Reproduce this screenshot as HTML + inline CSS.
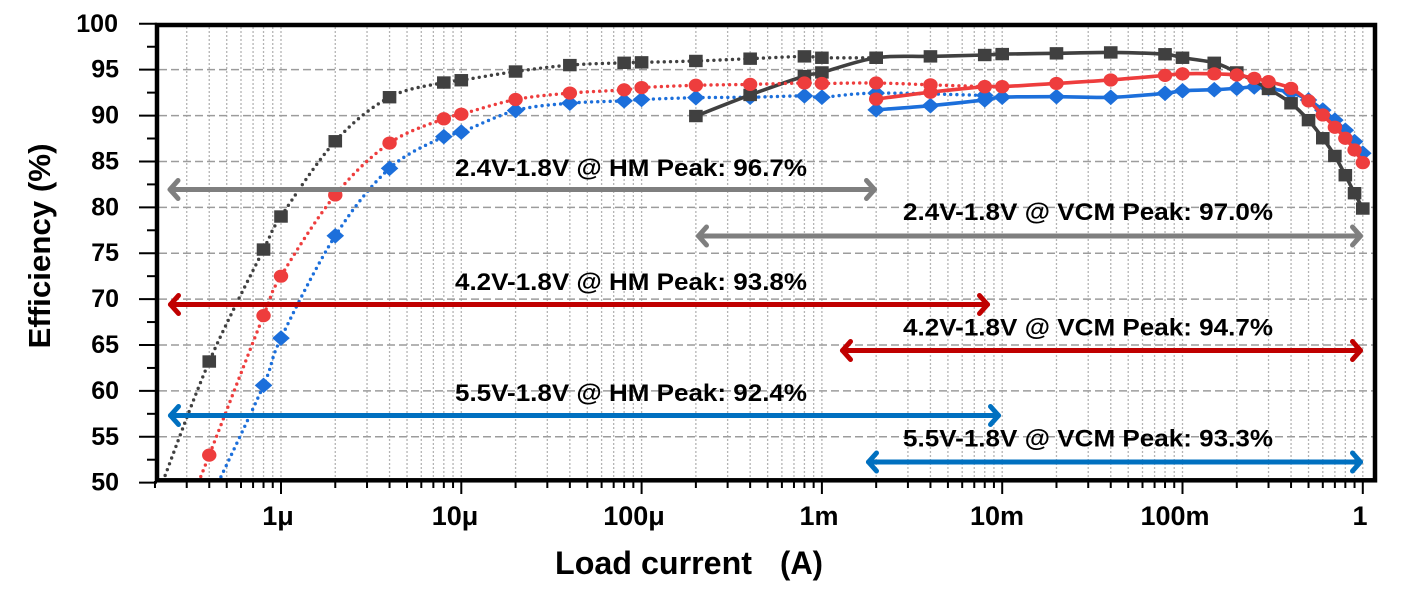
<!DOCTYPE html>
<html><head><meta charset="utf-8">
<style>
html,body{margin:0;padding:0;background:#fff;}
svg{display:block;}
text{font-family:"Liberation Sans",Arial,sans-serif;font-weight:bold;fill:#000;}
</style></head>
<body>
<svg id="c" width="1420" height="595" viewBox="0 0 1420 595" xmlns="http://www.w3.org/2000/svg">
<defs><clipPath id="pc"><rect x="159" y="27" width="1214" height="455"/></clipPath></defs>
<rect x="0" y="0" width="1420" height="595" fill="#fff"/>
<g id="grid"></g>
<g id="series" clip-path="url(#pc)"></g>
<rect x="157" y="25" width="1218" height="455.3" fill="none" stroke="#000" stroke-width="4.5"/>
<g id="ticks"></g>

<!-- Y labels -->
<g font-size="25" text-anchor="end">
<text x="118" y="31.8">100</text>
<text x="119" y="77.7">95</text>
<text x="119" y="123.6">90</text>
<text x="119" y="169.5">85</text>
<text x="119" y="215.3">80</text>
<text x="119" y="261.2">75</text>
<text x="119" y="307.1">70</text>
<text x="119" y="353.0">65</text>
<text x="119" y="398.9">60</text>
<text x="119" y="444.8">55</text>
<text x="119" y="490.7">50</text>
</g>
<!-- X labels -->
<g font-size="27" text-anchor="middle">
<text x="278" y="525">1μ</text>
<text x="455" y="525">10μ</text>
<text x="634" y="525">100μ</text>
<text x="819" y="525">1m</text>
<text x="997" y="525">10m</text>
<text x="1175" y="525">100m</text>
<text x="1360" y="525">1</text>
</g>
<text x="555" y="574" font-size="32" textLength="197" lengthAdjust="spacingAndGlyphs">Load current</text>
<text x="780" y="574" font-size="32" textLength="43" lengthAdjust="spacingAndGlyphs">(A)</text>
<text transform="translate(50,246) rotate(-90)" text-anchor="middle" font-size="31" textLength="205" lengthAdjust="spacingAndGlyphs">Efficiency (%)</text>

<!-- Arrows -->
<g fill="none" stroke-width="5" stroke-linecap="round" stroke-linejoin="round">
<g stroke="#7f7f7f">
<path d="M170.5 189.5 H874.5"/>
<path d="M178 180.5 L170 189.5 L178 198.5"/>
<path d="M866.5 180.5 L874.5 189.5 L866.5 198.5"/>
<path d="M698.5 236 H1360.5"/>
<path d="M706.5 227 L698.5 236 L706.5 245"/>
<path d="M1352.5 227 L1360.5 236 L1352.5 245"/>
</g>
<g stroke="#c00000">
<path d="M170.5 304.5 H987.5"/>
<path d="M178.5 295.5 L170.5 304.5 L178.5 313.5"/>
<path d="M979.5 295.5 L987.5 304.5 L979.5 313.5"/>
<path d="M842.5 350.5 H1360.5"/>
<path d="M850.5 341.5 L842.5 350.5 L850.5 359.5"/>
<path d="M1352.5 341.5 L1360.5 350.5 L1352.5 359.5"/>
</g>
<g stroke="#0070c0">
<path d="M170.5 415.5 H998.5"/>
<path d="M178.5 406.5 L170.5 415.5 L178.5 424.5"/>
<path d="M990.5 406.5 L998.5 415.5 L990.5 424.5"/>
<path d="M868.5 462 H1360.5"/>
<path d="M876.5 453 L868.5 462 L876.5 471"/>
<path d="M1352.5 453 L1360.5 462 L1352.5 471"/>
</g>
</g>

<!-- Annotations -->
<g font-size="24">
<text x="455" y="176" textLength="352" lengthAdjust="spacingAndGlyphs">2.4V-1.8V @ HM Peak: 96.7%</text>
<text x="903" y="220" textLength="370" lengthAdjust="spacingAndGlyphs">2.4V-1.8V @ VCM Peak: 97.0%</text>
<text x="455" y="290" textLength="352" lengthAdjust="spacingAndGlyphs">4.2V-1.8V @ HM Peak: 93.8%</text>
<text x="903" y="335.5" textLength="370" lengthAdjust="spacingAndGlyphs">4.2V-1.8V @ VCM Peak: 94.7%</text>
<text x="455" y="401" textLength="352" lengthAdjust="spacingAndGlyphs">5.5V-1.8V @ HM Peak: 92.4%</text>
<text x="903" y="446.5" textLength="370" lengthAdjust="spacingAndGlyphs">5.5V-1.8V @ VCM Peak: 93.3%</text>
</g>
</svg>
<script>
(function(){
const NS="http://www.w3.org/2000/svg";
function el(parent, tag, attrs){const e=document.createElementNS(NS,tag);for(const k in attrs)e.setAttribute(k,attrs[k]);parent.appendChild(e);return e;}
const X=I=>281+180.3*Math.log10(I*1e6);
const Y=v=>23.8+(100-v)*9.177;
const grid=document.getElementById('grid');
for(let d=-7; d<=0; d++){ for(let m=1;m<=9;m++){ const I=m*Math.pow(10,d); const x=X(I); if(x<158||x>1370) continue;
  el(grid,'line',{x1:x,y1:27,x2:x,y2:478,stroke:'#b4b4b4','stroke-width':1.3,'stroke-dasharray':'2 2'}); } }
for(let v=55; v<=95; v+=5){ const y=Y(v);
  el(grid,'line',{x1:159,y1:y,x2:1373,y2:y,stroke:'#9c9c9c','stroke-width':1.5,'stroke-dasharray':'8 4'}); }
const tk=document.getElementById('ticks');
for(let d=-7; d<=0; d++){ for(let m=1;m<=9;m++){ const I=m*Math.pow(10,d); const x=X(I); if(x<150||x>1370) continue;
  el(tk,'line',{x1:x,y1:481,x2:x,y2:m===1?494:488,stroke:'#000','stroke-width':2}); } }
for(let k=0;k<=20;k++){ const v=50+2.5*k; const y=Y(v);
  el(tk,'line',{x1:k%2===0?139:147,y1:y,x2:157,y2:y,stroke:'#000','stroke-width':2}); }

function f(p){return p[0].toFixed(2)+','+p[1].toFixed(2);}
function smooth(p){let d='M'+f(p[0]);for(let i=0;i<p.length-1;i++){const p0=p[i>0?i-1:i],p1=p[i],p2=p[i+1],p3=p[i+2<p.length?i+2:i+1];
  const c1=[p1[0]+(p2[0]-p0[0])/6,p1[1]+(p2[1]-p0[1])/6];const c2=[p2[0]-(p3[0]-p1[0])/6,p2[1]-(p3[1]-p1[1])/6];
  d+=' C'+f(c1)+' '+f(c2)+' '+f(p2);}return d;}
const sg=document.getElementById('series');
function series(data,start,color,dotted,marker){
  const pts=data.map(([I,v])=>[X(I),Y(v)]);
  const all=start?[start].concat(pts):pts;
  const a={d:smooth(all),fill:'none',stroke:color,'stroke-width':dotted?3.4:3.6,'stroke-linecap':'round','stroke-linejoin':'round'};
  if(dotted) a['stroke-dasharray']='0 6.2';
  el(sg,'path',a);
  pts.forEach(([x,y])=>{
    if(marker==='sq') el(sg,'rect',{x:x-6.8,y:y-6.2,width:13.6,height:12.4,fill:color});
    else if(marker==='ci') el(sg,'ellipse',{cx:x,cy:y,rx:7.2,ry:6.6,fill:color});
    else el(sg,'path',{d:'M'+(x-8.8)+','+y+' L'+x+','+(y-7.8)+' L'+(x+8.8)+','+y+' L'+x+','+(y+7.8)+' Z',fill:color});
  });
}
const GR='#404040', RD='#ee3d3d', BL='#1c6fdb';
// Blue
series([[0.8e-6,60.6],[1e-6,65.75],[2e-6,76.9],[4e-6,84.25],[8e-6,87.7],[1e-5,88.2],[2e-5,90.55],[4e-5,91.35],[8e-5,91.6],[1e-4,91.75],[2e-4,91.95],[4e-4,92.0],[8e-4,92.15],[1e-3,92.0],[2e-3,92.45],[8e-3,92.2]],[215.7,488],BL,true,'di');
series([[2e-3,90.62],[4e-3,91.08],[8e-3,91.7],[1e-2,92.0],[2e-2,92.06],[4e-2,91.99],[8e-2,92.43],[0.1,92.7],[0.15,92.82],[0.2,92.97],[0.25,93.12],[0.3,92.97],[0.4,92.5],[0.5,91.7],[0.6,90.6],[0.7,89.5],[0.8,88.4],[0.9,87.16],[1,85.9]],null,BL,false,'di');
// Gray
series([[0.4e-6,63.2],[0.8e-6,75.4],[1e-6,79.0],[2e-6,87.2],[4e-6,92.0],[8e-6,93.6],[1e-5,93.85],[2e-5,94.8],[4e-5,95.5],[8e-5,95.75],[1e-4,95.8],[2e-4,95.95],[4e-4,96.2],[8e-4,96.45],[1e-3,96.3],[2e-3,96.3]],[160.8,487],GR,true,'sq');
series([[2e-4,89.95],[4e-4,92.25],[8e-4,94.3],[1e-3,94.7],[2e-3,96.3],[4e-3,96.45],[8e-3,96.6],[1e-2,96.7],[2e-2,96.78],[4e-2,96.88],[8e-2,96.68],[0.1,96.3],[0.15,95.75],[0.2,94.7],[0.3,92.9],[0.4,91.34],[0.5,89.5],[0.6,87.53],[0.7,85.6],[0.8,83.5],[0.9,81.54],[1,79.87]],null,GR,false,'sq');
// Red
series([[0.4e-6,53.0],[0.8e-6,68.2],[1e-6,72.5],[2e-6,81.35],[4e-6,87.0],[8e-6,89.65],[1e-5,90.15],[2e-5,91.75],[4e-5,92.45],[8e-5,92.8],[1e-4,93.05],[2e-4,93.3],[4e-4,93.4],[8e-4,93.55],[1e-3,93.5],[2e-3,93.55],[4e-3,93.35],[8e-3,93.15]],[196.1,488],RD,true,'ci');
series([[2e-3,91.8],[4e-3,92.55],[8e-3,93.15],[1e-2,93.15],[2e-2,93.5],[4e-2,93.88],[8e-2,94.38],[0.1,94.55],[0.15,94.55],[0.2,94.42],[0.25,94.06],[0.3,93.7],[0.4,92.97],[0.5,91.6],[0.6,90.07],[0.7,88.73],[0.8,87.53],[0.9,86.25],[1,84.87]],null,RD,false,'ci');
})();
</script>
</body></html>
